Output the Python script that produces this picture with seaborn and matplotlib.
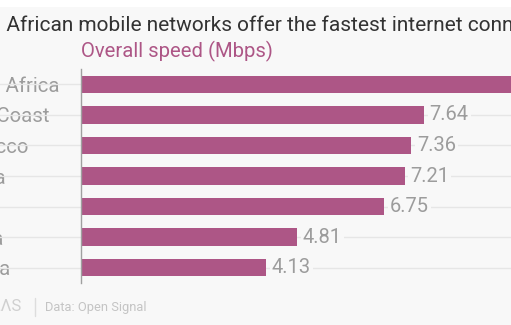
import matplotlib
matplotlib.use("Agg")
import matplotlib.pyplot as plt
import seaborn as sns
import pandas as pd
from matplotlib.patches import Rectangle

countries = ["South Africa", "Ivory Coast", "Morocco", "Ghana", "Egypt", "Kenya", "Algeria"]
speeds = [10.2, 7.64, 7.36, 7.21, 6.75, 4.81, 4.13]
title = "South African mobile networks offer the fastest internet connections in Africa"
subtitle = "Overall speed (Mbps)"
source = "Data: Open Signal"

BG = "#f8f8f8"
BAR = "#ad5686"
GRAY = "#9c9c9c"
FONT = "Roboto"

sns.set_theme(style="white")
plt.rcParams["font.family"] = [FONT, "DejaVu Sans"]

W, H = 511, 325
fig = plt.figure(figsize=(W / 100, H / 100), dpi=100, facecolor=BG)
fig.patches.append(Rectangle((0, 1 - 7 / H), 1, 7 / H, transform=fig.transFigure,
                             facecolor="white", edgecolor="none", zorder=0))

ax_left, ax_top, ax_bot = 81, 69, 283
ax = fig.add_axes([ax_left / W, 1 - ax_bot / H, 1 - ax_left / W, (ax_bot - ax_top) / H])
ax.set_facecolor(BG)

df = pd.DataFrame({"country": countries, "speed": speeds})
sns.barplot(data=df, x="speed", y="country", orient="h", color=BAR, width=0.57,
            saturation=1, edgecolor="none", ax=ax, zorder=3)

ax.set_xlim(0, (W - ax_left) / 44.9)
ax.set_ylim(len(countries) - 0.5, -0.5)
ax.set_xlabel("")
ax.set_ylabel("")
ax.set_xticks([])

# gridlines spanning full width
ax.hlines(range(len(countries)), -5, 20, color="#e6e6e6", lw=1, zorder=1, clip_on=False)

for s in ["top", "right", "bottom"]:
    ax.spines[s].set_visible(False)
ax.spines["left"].set_color("#a0a0a0")
ax.spines["left"].set_linewidth(1)
ax.spines["left"].set_zorder(4)

ax.tick_params(axis="y", length=0, pad=(ax_left + 52) * 0.72, labelsize=14.7, labelcolor=GRAY)
for lab in ax.get_yticklabels():
    lab.set_horizontalalignment("left")
    lab.set_bbox(dict(facecolor=BG, edgecolor="none", pad=1.5))

texts = ax.bar_label(ax.containers[0], fmt="%.2f", padding=4, color=GRAY, fontsize=14.5)
for t in texts:
    t.set_bbox(dict(facecolor=BG, edgecolor="none", pad=1.5))
    t.set_zorder(5)

fig.text(-53 / W, 1 - 31 / H, title, fontsize=15.0, color="#333333", ha="left", va="baseline")
fig.text(ax_left / W, 1 - 57 / H, subtitle, fontsize=14.6, color="#ad5686", ha="left", va="baseline")

fig.text(22 / W, 1 - 311 / H, "ΛTLΛS", fontsize=12, color="#d0d0d0", ha="right", va="baseline")
fig.add_artist(plt.Line2D([35 / W, 35 / W], [1 - 316 / H, 1 - 298 / H], color="#dddddd", lw=1,
                          transform=fig.transFigure))
fig.text(45 / W, 1 - 311 / H, source, fontsize=9.3, color="#c4c4c4", ha="left", va="baseline")

fig.savefig("out.png", dpi=100, facecolor=BG)
